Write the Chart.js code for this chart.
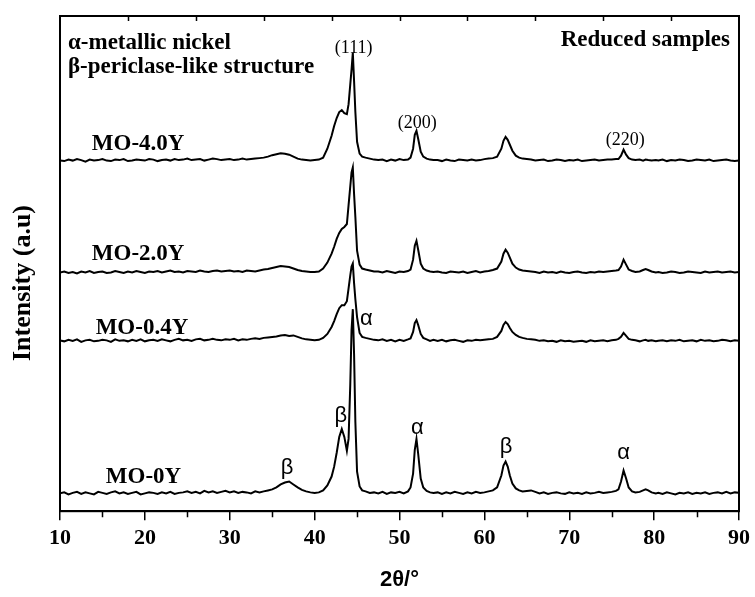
<!DOCTYPE html>
<html lang="en">
<head>
  <meta charset="UTF-8">
  <title>XRD - reduced samples</title>
  <style>
    html, body { margin: 0; padding: 0; background: #fff; }
    #wrap { width: 755px; height: 597px; }
  </style>
</head>
<body>
  <div id="wrap"><canvas id="xrd"></canvas></div>

  <script src="https://cdn.jsdelivr.net/npm/chart.js"></script>
  <script>
    // 2θ grid (degrees), shared by all four patterns
    const twoTheta = [
      10, 10.5, 11, 11.5, 12, 12.5, 13, 13.5, 14, 14.5,
      15, 15.5, 16, 16.5, 17, 17.5, 18, 18.5, 19, 19.5,
      20, 20.5, 21, 21.5, 22, 22.5, 23, 23.5, 24, 24.5,
      25, 25.5, 26, 26.5, 27, 27.5, 28, 28.5, 29, 29.5,
      30, 30.5, 31, 31.5, 32, 32.5, 33, 33.5, 34, 34.5,
      35, 35.5, 36, 36.5, 37, 37.5, 38, 38.5, 39, 39.5,
      40,
      40.5, 41, 41.5, 42, 42.3, 42.6, 42.9, 43.2, 43.5, 43.8, 44, 44.2, 44.35, 44.5, 44.65, 44.8, 45, 45.3, 45.6, 46, 46.5, 47,
      47.5, 48, 48.5, 49, 49.5, 50, 50.5, 51,
      51.3, 51.6, 51.8, 52, 52.2, 52.5, 52.8, 53.2, 53.6, 54,
      54.5, 55, 55.5, 56, 56.5, 57, 57.5, 58, 58.5, 59, 59.5, 60, 60.5, 61,
      61.5, 62, 62.25, 62.5, 62.75, 63, 63.3, 63.7, 64.1, 64.5, 65,
      65.5, 66, 66.5, 67, 67.5, 68, 68.5, 69, 69.5, 70, 70.5, 71, 71.5, 72, 72.5, 73, 73.5, 74, 74.5, 75, 75.5,
      75.8, 76.1, 76.4, 76.7, 77, 77.4, 77.8, 78.3, 78.7, 79, 79.3, 79.7, 80.2,
      80.5, 81, 81.5, 82, 82.5, 83, 83.5, 84, 84.5, 85, 85.5, 86, 86.5, 87, 87.5, 88, 88.5, 89, 89.5, 90
    ];

    // intensities above each pattern's own background (a.u.)
    const mo0Y = [
      0, 1, -1, 0.5, 1.5, -0.5, 1, 0, -1, 1.5,
      0.5, -0.5, 1, 2, 0, 1, -0.5, 0.5, 1.5, -1,
      0, 1, 0.5, -0.5, 1, 0, 1.5, -0.5, 0.5, 1,
      2, 0.5, 1.5, 0, 2.5, 1, 2, 0.5, 1.5, 2.5,
      1, 2, 0.5, 1.5, 1, 0, 2, 1, 2, 3,
      4, 6, 9, 11, 12, 9, 6, 3.5, 2, 1,
      0.5,
      1, 3, 8, 17, 27, 41, 57, 65, 57, 43, 55, 110, 165, 186, 140, 72, 22, 7, 3, 2, 0.5, 1,
      0, 1.5, -0.5, 1, 0.5, 1.5, 0, 2,
      6, 20, 44, 55, 40, 15, 6, 2.5, 1, 0.5,
      1, -0.5, 1, 0, 1.5, 0.5, -0.5, 1, 0, 1.5, 0.5, 1, 2, 3,
      6, 18, 28, 32, 27, 18, 10, 5, 3, 2, 2.5,
      3, 1.5, 0, 1, -0.5, 0.5, 1, 0, -0.5, 1, 0, 0.5, -0.5, 1, 0, 0.5, 1.5, 0.5, 1, 1.5, 2.5,
      4, 12, 23, 15, 6, 2, 1, 1.5, 3, 4, 3, 1, 0,
      0.5, -0.5, 1, 0, -1, 0.5, 0, 1, -0.5, 0.5, 0, 1, -0.5, 0.5, 1, 0, 1.5, 0, 1, 0.5
    ];
    const mo04Y = [
      0.5, -0.5, 1, 0, 1.5, -1, 0.5, 1, -0.5, 0,
      1, 0.5, -1, 1.5, 0, 0.5, -0.5, 1, 0, 1.5,
      -0.5, 0.5, 1, 0, 1.5, 0.5, -0.5, 1, 2, 0.5,
      1, 0, 1.5, 2, 0.5, 1, 2, 1, 0.5, 1.5,
      1, 2, 0.5, 1.5, 1, 2, 2.5, 2, 3, 3.5,
      4, 4.5, 5.5, 6, 5, 5.5, 4, 2.5, 1.5, 1,
      0.5,
      1, 3, 7, 14, 20, 27, 33, 36, 36, 40, 53, 66, 75, 78, 58, 42, 24, 8, 4, 3, 2, 1,
      0.5, 1.5, 0, 1, -0.5, 1, 0, 1.5,
      2.5, 9, 18, 21, 16, 7, 3, 1.5, 0, 1,
      0, 1, -0.5, 0.5, 1, 0, -1, 0.5, 0, 1, 0.5, 1, 1.5, 2,
      4, 10, 16, 19, 17, 13, 9, 6, 4, 3, 2,
      1.5, 1, 0, 0.5, -0.5, 0, -1, 0.5, -0.5, 0, -1, -0.5, 0, -1, 0.5, -0.5, 0, 0.5, -0.5, 0.5, 1,
      2, 4, 8, 5, 2, 1, 0.5, -0.5, 0.5, 1, 0, 0.5, -0.5,
      0, 0.5, -0.5, 0.5, 0, 1, -0.5, 0, 0.5, -0.5, 1, 0, 0.5, -0.5, 0, 1, 0.5, -0.5, 0.5, 0
    ];
    const mo20Y = [
      0, 1, -0.5, 0.5, -1, 1, 0, 1.5, -0.5, 0.5,
      1, -0.5, 0, 1.5, 0.5, -0.5, 1, 0, 1.5, 0.5,
      -0.5, 1, 0.5, 1.5, 0, 1, 2, 0.5, 1, 0,
      1.5, 1, 0.5, 2, 1, 0.5, 1.5, 2, 1, 1.5,
      2, 1, 1.5, 0.5, 2, 1.5, 1, 2, 3, 3.5,
      4.5, 5.5, 6.5, 6, 5.5, 4, 2.5, 1.5, 1, 0.5,
      0.5,
      1, 4, 10, 19, 26, 34, 40, 44, 46, 49, 68, 87, 101, 106, 79, 56, 22, 8, 4, 3, 2, 1,
      1, 0, 1.5, 0.5, -0.5, 1, 0.5, 1.5,
      3, 13, 27, 32, 23, 9, 4, 2, 1, 0.5,
      1, 0, -0.5, 1, 0.5, 0, 1, -0.5, 0.5, 1.5, 0, 1, 1.5, 2.5,
      4, 11, 19, 23, 20, 15, 9, 5, 3, 2, 1.5,
      1, 0.5, -0.5, 1, 0, 0.5, -0.5, 1, 0, -0.5, 0.5, 1, 0, -0.5, 0.5, 0, 1, 0.5, 1, 1.5, 2,
      2.5, 6, 13, 8, 3, 1.5, 0.5, 1, 2.5, 3.5, 2.5, 1, 0,
      0.5, -0.5, 0, 1, 0.5, -0.5, 0, 1, 0.5, 0, -0.5, 1, 0, 0.5, 1, 0, 0.5, 1, 0, 0.5
    ];
    const mo40Y = [
      0, -0.5, 1, 0, 1.5, 0.5, -1, 1, 0, 0.5,
      1.5, 0, -0.5, 1, 0.5, 1.5, -0.5, 0, 1, 0.5,
      0, 1.5, 1, -0.5, 0.5, 1, 0, 1.5, 0.5, 1,
      2, 0.5, 1, 1.5, 0, 1, 2, 1.5, 0.5, 1,
      1.5, 0.5, 1, 2, 1, 1.5, 2, 2.5, 3, 4,
      5.5, 6.5, 7.5, 7, 6, 4, 2, 1, 0.5, 0,
      0.5,
      1, 3, 12, 25, 35, 43, 49, 51, 48, 47, 57, 77, 92, 109, 80, 49, 19, 7, 4, 3, 2, 1,
      0.5, 1, -0.5, 1, 0, 1.5, 0.5, 1,
      3, 12, 26, 30, 22, 9, 4, 2, 1, 0.5,
      0.5, -0.5, 1, 0, -0.5, 1, 0.5, 0, 1, 0, 0.5, 1.5, 2, 2.5,
      4, 12, 20, 24, 21, 16, 10, 5, 3, 2, 1.5,
      1, 0, 0.5, 1, -0.5, 0, 1, 0.5, -0.5, 0.5, 0, 1, -0.5, 0, 0.5, 1, 0, 0.5, 1, 1, 1.5,
      1.5, 5, 11, 6, 2.5, 1, 0.5, 1, 0, 1, 0.5, 0, 0.5,
      0, 1, -0.5, 0.5, 0, 1, 0.5, -0.5, 0, 1, 0.5, 0, 1, -0.5, 0, 0.5, 1, 0, -0.5, 0
    ];

    const sampleNames = ['MO-0Y', 'MO-0.4Y', 'MO-2.0Y', 'MO-4.0Y'];
    const patterns = [mo0Y, mo04Y, mo20Y, mo40Y];
    // vertical shift applied to each pattern so they stack
    const offsets = [18, 172, 241, 354];

    // where each sample name sits, [2θ, intensity]
    const nameAnchors = [[15.4, 34], [14.2, 185], [13.75, 260], [13.75, 371]];

    // phase marks on MO-0Y: α metallic Ni, β periclase-like
    const phaseMarks = [
      ['β', 36.75, 37.5], ['β', 43.1, 90.5], ['α', 46.1, 188],
      ['α', 52.1, 78], ['β', 62.55, 58.5], ['α', 76.4, 53]
    ];
    // Miller indices over the MO-4.0Y reflections
    const hklMarks = [['(111)', 44.6, 467], ['(200)', 52.1, 392], ['(220)', 76.6, 375]];

    const minorTicks = [15, 25, 35, 45, 55, 65, 75, 85];
    const topTicks = [18, 26, 34, 42, 50, 58, 66, 74, 82];

    const SERIF = "'Liberation Serif', 'Times New Roman', serif";
    const SANS = "'Liberation Sans', Arial, sans-serif";

    const decorations = {
      id: 'decorations',
      afterDraw(chart) {
        const { ctx, chartArea: a, scales: { x, y } } = chart;
        ctx.save();
        ctx.strokeStyle = '#000';
        ctx.fillStyle = '#000';

        // frame
        ctx.lineWidth = 2;
        ctx.strokeRect(a.left, a.top, a.right - a.left, a.bottom - a.top);

        ctx.lineWidth = 1.5;
        ctx.beginPath();
        minorTicks.forEach(v => {
          const px = Math.round(x.getPixelForValue(v)) + 0.5;
          ctx.moveTo(px, a.bottom); ctx.lineTo(px, a.bottom + 6);
        });
        topTicks.forEach(v => {
          const px = Math.round(x.getPixelForValue(v)) + 0.5;
          ctx.moveTo(px, a.top); ctx.lineTo(px, a.top + 5);
        });
        ctx.stroke();

        // sample names
        ctx.font = `bold 23px ${SERIF}`;
        ctx.textAlign = 'left';
        ctx.textBaseline = 'middle';
        sampleNames.forEach((n, i) => {
          const [t, v] = nameAnchors[i];
          ctx.fillText(n, x.getPixelForValue(t), y.getPixelForValue(v));
        });

        // legend block and panel tag
        ctx.fillText('α-metallic nickel', a.left + 8, a.top + 27);
        ctx.fillText('β-periclase-like structure', a.left + 8, a.top + 51);
        ctx.textAlign = 'right';
        ctx.fillText('Reduced samples', a.right - 9, a.top + 24);

        // hkl
        ctx.font = `18px ${SERIF}`;
        ctx.textAlign = 'center';
        hklMarks.forEach(([s, t, v]) => ctx.fillText(s, x.getPixelForValue(t), y.getPixelForValue(v)));

        // α / β
        ctx.font = `22px ${SANS}`;
        ctx.textBaseline = 'alphabetic';
        phaseMarks.forEach(([s, t, v]) => ctx.fillText(s, x.getPixelForValue(t), y.getPixelForValue(v)));

        // y title
        ctx.font = `bold 26px ${SERIF}`;
        ctx.textBaseline = 'middle';
        ctx.translate(23, 283);
        ctx.rotate(-Math.PI / 2);
        ctx.fillText('Intensity (a.u)', 0, 0);
        ctx.restore();
      }
    };

    const datasets = patterns.map((p, i) => ({
      label: sampleNames[i],
      data: twoTheta.map((t, k) => ({ x: t, y: p[k] + offsets[i] })),
      borderColor: '#000',
      borderWidth: 2,
      pointRadius: 0,
      tension: 0,
      fill: false
    }));

    new Chart(document.getElementById('xrd'), {
      type: 'line',
      data: { datasets },
      options: {
        responsive: true,
        maintainAspectRatio: false,
        animation: false,
        layout: { padding: { left: 60, right: 13, top: 16, bottom: 0 } },
        plugins: { legend: { display: false }, tooltip: { enabled: false } },
        scales: {
          x: {
            type: 'linear',
            min: 10,
            max: 90,
            ticks: {
              stepSize: 10,
              color: '#000',
              padding: 5,
              font: { family: SERIF, weight: 'bold', size: 22 }
            },
            grid: { drawOnChartArea: false, drawTicks: true, tickLength: 9, color: '#000', lineWidth: 1.5 },
            border: { display: true, color: '#000', width: 2 },
            title: {
              display: true,
              text: '2θ/°',
              color: '#000',
              font: { family: SANS, weight: 'bold', size: 22 },
              padding: { top: 10, bottom: 4 }
            }
          },
          y: { display: false, min: 0, max: 500 }
        }
      },
      plugins: [decorations]
    });
  </script>
</body>
</html>
